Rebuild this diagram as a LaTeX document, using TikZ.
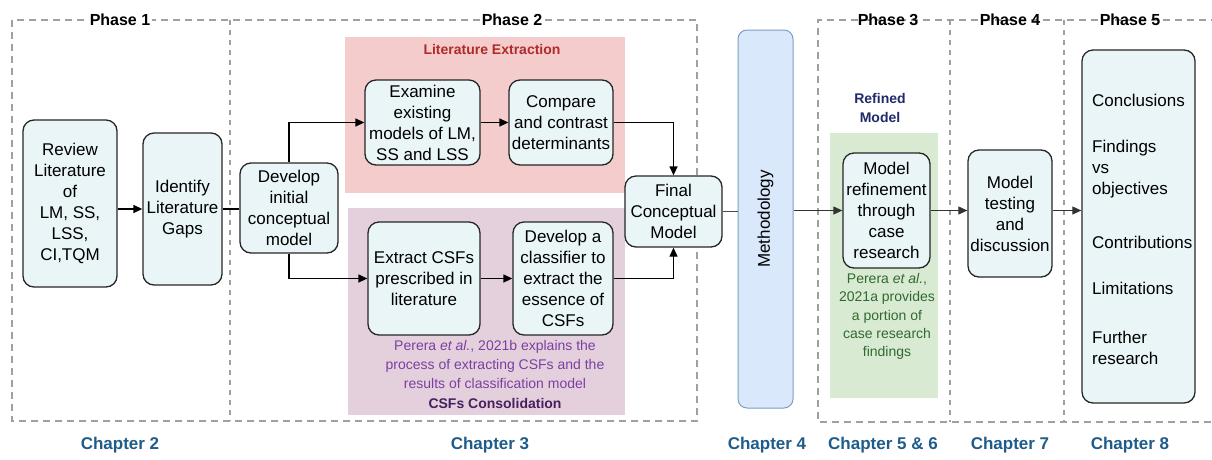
\documentclass[tikz,border=0pt]{standalone}
\usepackage{fontspec}
\setmainfont{Liberation Sans}
\usetikzlibrary{arrows.meta}
\definecolor{nodefill}{HTML}{E9F5F7}
\definecolor{pinkbg}{HTML}{F4CCCC}
\definecolor{purplebg}{HTML}{E4D0DD}
\definecolor{greenbg}{HTML}{D9EAD3}
\definecolor{methfill}{HTML}{DAE8FC}
\definecolor{methline}{HTML}{7E9CC7}
\definecolor{phaseline}{HTML}{A0A0A0}
\definecolor{chaptercol}{HTML}{1F5C8A}
\definecolor{extractcol}{HTML}{B02A2A}
\definecolor{purpletext}{HTML}{7B3FA0}
\definecolor{consolcol}{HTML}{46205F}
\definecolor{refinedcol}{HTML}{1F2A6B}
\definecolor{greentext}{HTML}{2F6A30}
\begin{document}
\begin{tikzpicture}[x=1pt,y=-1pt,
  phasebox/.style={draw=phaseline,line width=1.8pt,dash pattern=on 7pt off 5pt},
  phasediv/.style={draw=phaseline,line width=1.5pt,dash pattern=on 5pt off 5pt},
  phaselabel/.style={font=\fontsize{16}{18}\selectfont\bfseries,inner sep=2pt},
  chapterlabel/.style={font=\fontsize{17}{19}\selectfont\bfseries,text=chaptercol},
  stepbox/.style={draw=black!85,fill=nodefill,line width=1.3pt,rounded corners=11pt,
    align=center,inner sep=1pt,font=\fontsize{17}{21}\selectfont},
  listtext/.style={anchor=west,inner sep=0pt,font=\fontsize{17}{21}\selectfont},
  notetext/.style={align=center,font=\fontsize{14}{19}\selectfont},
  arr/.style={line width=1.3pt,-{Triangle[length=9pt,width=8pt]}},
  link/.style={line width=1.3pt}]
\useasboundingbox (0,0) rectangle (1212,459);

% shaded regions
\fill[pinkbg] (345,37) rectangle (625,193);
\fill[purplebg] (348,208) rectangle (625,415);
\fill[greenbg] (830,133) rectangle (938,398);

% phase frames and the dividers between phases
\draw[phasebox] (12,20) rectangle (697,421);
\draw[phasediv] (230,20) -- (230,421);
\draw[phasebox] (1230,20) -- (818,20) -- (818,422) -- (1230,422);
\draw[phasediv] (950,20) -- (950,422);
\draw[phasediv] (1064,20) -- (1064,422);

\node[phaselabel,fill=white] (ph1) at (120,20) {Phase 1};
\node[phaselabel,fill=white] (ph2) at (512,20) {Phase 2};
\node[phaselabel] (ph3) at (888,20) {Phase 3};
\node[phaselabel] (ph4) at (1010,20) {Phase 4};
\node[phaselabel] (ph5) at (1130,20) {Phase 5};

% process steps
\node[stepbox,minimum width=94pt,minimum height=167pt] (rev) at (70,203.5)
  {Review\\Literature\\of\\LM, SS,\\LSS,\\CI,TQM};
\node[stepbox,minimum width=79pt,minimum height=152pt] (gap) at (182.5,209)
  {Identify\\Literature\\Gaps};
\node[stepbox,minimum width=98pt,minimum height=90pt] (dev) at (289,208)
  {Develop\\initial\\conceptual\\model};
\node[stepbox,minimum width=115pt,minimum height=85pt] (exa) at (422.5,122.5)
  {Examine\\existing\\models of LM,\\SS and LSS};
\node[stepbox,minimum width=104pt,minimum height=85pt] (cmp) at (561,122.5)
  {Compare\\and contrast\\determinants};
\node[stepbox,minimum width=112pt,minimum height=113pt] (ext) at (424,278.5)
  {Extract CSFs\\prescribed in\\literature};
\node[stepbox,minimum width=100pt,minimum height=113pt] (cls) at (563,278.5)
  {Develop a\\classifier to\\extract the\\essence of\\CSFs};
\node[stepbox,minimum width=97pt,minimum height=71pt] (fin) at (673.5,211.5)
  {Final\\Conceptual\\Model};
\node[draw=methline,fill=methfill,line width=1pt,rounded corners=9pt,
  minimum width=55pt,minimum height=378pt,inner sep=0pt,
  font=\fontsize{17}{21}\selectfont] (met) at (765.5,219)
  {\rotatebox{90}{Methodology}};
\node[stepbox,minimum width=87pt,minimum height=115pt] (ref) at (886.5,210.5)
  {Model\\refinement\\through\\case\\research};
\node[stepbox,minimum width=84pt,minimum height=127pt] (tst) at (1010,213.5)
  {Model\\testing\\and\\discussion};
\node[stepbox,minimum width=113pt,minimum height=353pt] (out) at (1138.5,226.5) {};

% outcomes listed in the last step
\node[listtext] (o1) at (1092,100) {Conclusions};
\node[listtext] (o2) at (1092,148) {Findings};
\node[listtext] (o3) at (1092,169) {vs};
\node[listtext] (o4) at (1092,190) {objectives};
\node[listtext] (o5) at (1092,242) {Contributions};
\node[listtext] (o6) at (1092,288) {Limitations};
\node[listtext] (o7) at (1092,337) {Further};
\node[listtext] (o8) at (1092,358) {research};

% region captions
\node[font=\fontsize{14}{16}\selectfont\bfseries,text=extractcol] (lex) at (492,49)
  {Literature Extraction};
\node[notetext,text=purpletext,anchor=north] (pn) at (495,337)
  {Perera \textit{et al.}, 2021b explains the\\process of extracting CSFs and the\\results of classification model};
\node[font=\fontsize{14}{16}\selectfont\bfseries,text=consolcol] (csc) at (495,403)
  {CSFs Consolidation};
\node[font=\fontsize{14}{19}\selectfont\bfseries,text=refinedcol,align=center] (rfm) at (880,107.5)
  {Refined\\Model};
\node[notetext,text=greentext,anchor=north,font=\fontsize{14}{18.3}\selectfont] (gn) at (887,270)
  {Perera \textit{et al.},\\2021a provides\\a portion of\\case research\\findings};

% chapters
\node[chapterlabel] (c2) at (120,445) {Chapter 2};
\node[chapterlabel] (c3) at (490,445) {Chapter 3};
\node[chapterlabel] (c4) at (767,445) {Chapter 4};
\node[chapterlabel] (c56) at (883,445) {Chapter 5 \& 6};
\node[chapterlabel] (c7) at (1010,445) {Chapter 7};
\node[chapterlabel] (c8) at (1130,445) {Chapter 8};

% connectors
\draw[arr] (rev.east |- gap.west) -- (gap.west);
\draw[link] (gap.east) -- (dev.west |- gap.east);
\draw[arr] (dev.north) |- (exa.west);
\draw[arr] (dev.south) |- (ext.west);
\draw[arr] (exa.east) -- (cmp.west);
\draw[arr] (ext.east) -- (cls.west);
\draw[arr] (cmp.east) -| (fin.north);
\draw[arr] (cls.east) -| (fin.south);
\draw[link,line width=1pt,draw=black!70] (fin.east) -- (met.west |- fin.east);
\draw[arr,line width=1pt,draw=black!80] (met.east |- ref.west) -- (ref.west);
\draw[arr,line width=1pt,draw=black!80] (ref.east) -- (tst.west |- ref.east);
\draw[arr,line width=1pt,draw=black!80] (tst.east |- ref.east) -- (out.west |- ref.east);
\end{tikzpicture}
\end{document}
